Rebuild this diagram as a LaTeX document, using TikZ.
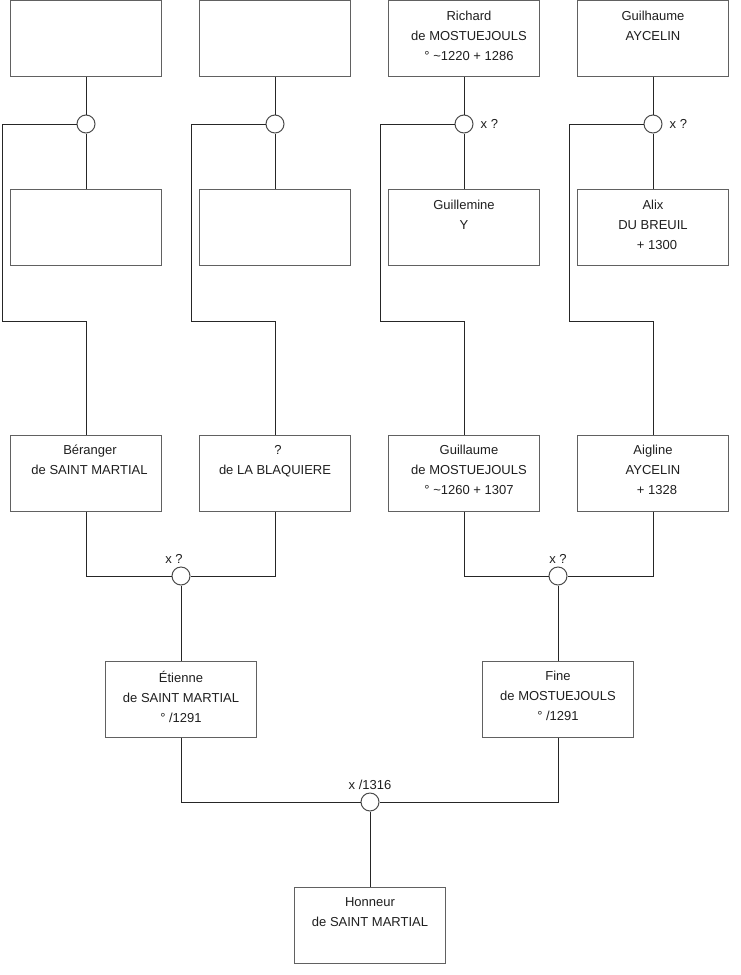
\documentclass[tikz,border=0pt]{standalone}
\usepackage{fontspec}
\setmainfont{Liberation Sans}
\begin{document}
\begin{tikzpicture}[x=1pt,y=-1pt,
  pbox/.style={draw=black!62,line width=1pt,minimum width=151pt,minimum height=76pt,inner sep=0pt,fill=white},
  ptext/.style={anchor=north,inner sep=0pt,align=center,text=black!88,
    font=\fontsize{13pt}{20pt}\selectfont,execute at begin node={\rule{0pt}{12pt}}},
  ring/.style={circle,draw=black!70,line width=1pt,minimum size=18pt,inner sep=0pt,fill=white},
  link/.style={draw=black!85,line width=1pt},
  mlabel/.style={inner sep=0pt,text=black!88,font=\fontsize{13pt}{16pt}\selectfont}]
\useasboundingbox (0,0) rectangle (740,975);
\fill[white] (0,0) rectangle (740,975);

% top row
\node[pbox] (b1) at (86,38.5) {};
\node[pbox] (b2) at (275,38.5) {};
\node[pbox] (b3) at (464,38.5) {};
\node[pbox] (b4) at (653,38.5) {};
\node[ptext] at ([yshift=-10.5pt,xshift=5pt]b3.north) {Richard\\de MOSTUEJOULS\\° \textasciitilde1220 + 1286};
\node[ptext] at ([yshift=-10.5pt]b4.north) {Guilhaume\\AYCELIN};

% second row
\node[pbox] (b5) at (86,227.5) {};
\node[pbox] (b6) at (275,227.5) {};
\node[pbox] (b7) at (464,227.5) {};
\node[pbox] (b8) at (653,227.5) {};
\node[ptext] at ([yshift=-10.5pt]b7.north) {Guillemine\\Y};
\node[ptext] at ([yshift=-10.5pt]b8.north) {Alix\\DU BREUIL\\\hspace*{8pt}+ 1300};

% third row
\node[pbox] (b9) at (86,473) {};
\node[pbox] (b10) at (275,473) {};
\node[pbox] (b11) at (464,473) {};
\node[pbox] (b12) at (653,473) {};
\node[ptext] at ([yshift=-10.5pt]b9.north) {\hspace*{8pt}Béranger\\\hspace*{7pt}de SAINT MARTIAL};
\node[ptext] at ([yshift=-10.5pt]b10.north) {\hspace*{6pt}?\\de LA BLAQUIERE};
\node[ptext] at ([yshift=-10.5pt,xshift=5pt]b11.north) {Guillaume\\de MOSTUEJOULS\\° \textasciitilde1260 + 1307};
\node[ptext] at ([yshift=-10.5pt]b12.north) {Aigline\\AYCELIN\\\hspace*{8pt}+ 1328};

% fourth row
\node[pbox] (b13) at (181,699) {};
\node[pbox] (b14) at (558,699) {};
\node[ptext] at ([yshift=-10.5pt]b13.north) {Étienne\\de SAINT MARTIAL\\° /1291};
\node[ptext] at ([yshift=-10.5pt]b14.north) {Fine\\de MOSTUEJOULS\\° /1291};

% bottom
\node[pbox] (b15) at (370,925.5) {};
\node[ptext] at ([yshift=-10.5pt]b15.north) {Honneur\\de SAINT MARTIAL};

% rings
\node[ring] (c1) at (86,124) {};
\node[ring] (c2) at (275,124) {};
\node[ring] (c3) at (464,124) {};
\node[ring] (c4) at (653,124) {};
\node[ring] (m1) at (181,576) {};
\node[ring] (m2) at (558,576) {};
\node[ring] (m3) at (370,802) {};

% ring labels
\node[mlabel,anchor=west] (l3) at ([xshift=7pt]c3.east) {x ?};
\node[mlabel,anchor=west] (l4) at ([xshift=7pt]c4.east) {x ?};
\node[mlabel,anchor=base] (l5) at (174,563) {x ?};
\node[mlabel,anchor=base] (l6) at (558,563) {x ?};
\node[mlabel,anchor=base] (l7) at (370,789.5) {x /1316};

% side coordinates
\coordinate (k1) at (2,321.5);
\coordinate (k2) at (191,321.5);
\coordinate (k3) at (380,321.5);
\coordinate (k4) at (569,321.5);

% connectors
\foreach \t/\c/\s/\k/\d in {b1/c1/b5/k1/b9, b2/c2/b6/k2/b10, b3/c3/b7/k3/b11, b4/c4/b8/k4/b12}{
  \draw[link] (\t.south) -- (\c.north);
  \draw[link] (\c.south) -- (\s.north);
  \draw[link] (\c.west) -| (\k) -| (\d.north);
}
\draw[link] (b9.south) |- (m1.west);
\draw[link] (b10.south) |- (m1.east);
\draw[link] (m1.south) -- (b13.north);
\draw[link] (b11.south) |- (m2.west);
\draw[link] (b12.south) |- (m2.east);
\draw[link] (m2.south) -- (b14.north);
\draw[link] (b13.south) |- (m3.west);
\draw[link] (b14.south) |- (m3.east);
\draw[link] (m3.south) -- (b15.north);
\end{tikzpicture}
\end{document}
